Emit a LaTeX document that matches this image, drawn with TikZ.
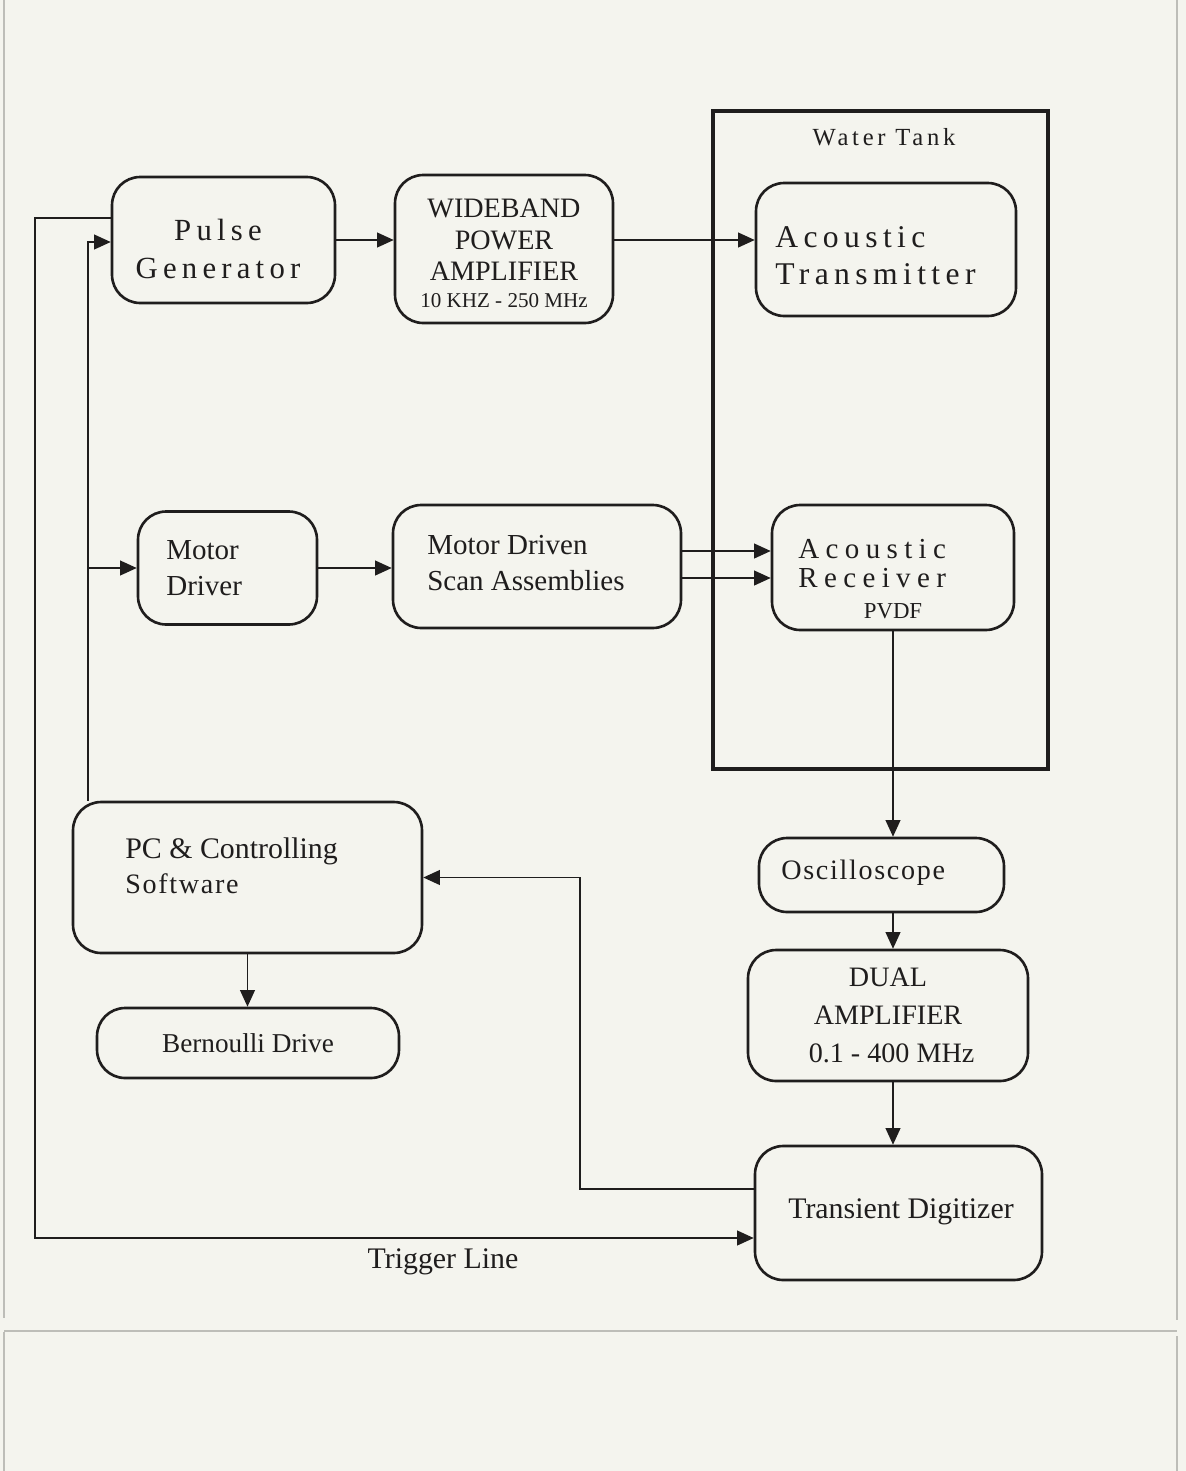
\documentclass[tikz,border=0pt]{standalone}
\usepackage{fontspec}
\setmainfont{Liberation Serif}
\newfontfamily\widefont[LetterSpace=22]{Liberation Serif}
\newfontfamily\midwidefont[LetterSpace=17]{Liberation Serif}
\newfontfamily\halfwidefont[LetterSpace=15]{Liberation Serif}
\newfontfamily\slightwidefont[LetterSpace=6]{Liberation Serif}
\usetikzlibrary{arrows.meta, positioning}
\definecolor{inkdark}{HTML}{1F1D1D}
\definecolor{pagerule}{HTML}{BDBDB8}
\definecolor{paper}{HTML}{F4F4EE}
\newcommand{\fs}[2]{\fontsize{#1}{#2}\selectfont}

\begin{document}
\begin{tikzpicture}[x=0.02cm, y=-0.02cm,
    blk/.style={draw=inkdark, line width=1.5pt, rounded corners=16pt, inner sep=0pt},
    wire/.style={inkdark, line width=0.8pt},
    arr/.style={wire, -{Triangle[length=9.5pt, width=8.5pt]}},
    lbl/.style={text=inkdark, inner sep=0pt}]
  \useasboundingbox[fill=paper] (0,0) rectangle (1186,1471);

  % page edges of the scan
  \draw[pagerule, line width=1.2pt] (4,0) -- (4,1318) (1177,0) -- (1177,1320);
  \draw[pagerule, line width=1.2pt] (4,1332) -- (4,1471) (1177,1336) -- (1177,1471);
  \draw[pagerule, line width=1.2pt] (4,1331) -- (1177,1331);

  % Water tank
  \draw[inkdark, line width=2.3pt] (713,111) rectangle (1048,769);
  \node[lbl, font=\halfwidefont\fs{14}{16}] (tank) at (884,137) {Water Tank};

  % Top row
  \node[blk, minimum width=4.46cm, minimum height=2.52cm] (pg) at (223.5,240) {};
  \node[lbl, align=center, font=\midwidefont\fs{17.5}{22}] (pg-t) at (218,249) {Pulse\\Generator};

  \node[blk, minimum width=4.36cm, minimum height=2.96cm] (wb) at (504,249) {};
  \node[lbl, align=center, font=\fs{16}{18}] (wb-t) at (504,240) {WIDEBAND\\POWER\\AMPLIFIER};
  \node[lbl, font=\fs{12}{14}] (wb-f) at (504,301) {10 KHZ - 250 MHz};

  \node[blk, minimum width=5.2cm, minimum height=2.66cm] (tr) at (886,249.5) {};
  \node[lbl, anchor=west, align=left, font=\midwidefont\fs{18}{21}] (tr-t) at (775,256) {Acoustic\\Transmitter};

  % Middle row
  \node[blk, minimum width=3.58cm, minimum height=2.26cm] (md) at (227.5,568) {};
  \node[lbl, anchor=west, align=left, font=\fs{16.5}{20.5}] (md-t) at (166,568) {Motor\\Driver};

  \node[blk, minimum width=5.76cm, minimum height=2.46cm] (sc) at (537,566.5) {};
  \node[lbl, anchor=west, align=left, font=\fs{16.5}{20.5}] (sc-t) at (427,563) {Motor Driven\\Scan Assemblies};

  \node[blk, minimum width=4.84cm, minimum height=2.5cm] (rx) at (893,567.5) {};
  \node[lbl, anchor=west, align=left, font=\widefont\fs{16.5}{16.5}] (rx-t) at (798,564) {Acoustic\\Receiver};
  \node[lbl, font=\fs{13}{15}] (rx-f) at (893,611) {PVDF};

  % Lower left
  \node[blk, minimum width=6.98cm, minimum height=3.02cm] (pc) at (247.5,877.5) {};
  \node[lbl, anchor=west, align=left, font=\fs{17}{20}] (pc-t) at (125,866) {PC \& Controlling\\{\slightwidefont\fs{16}{20}Software}};

  \node[blk, minimum width=6.04cm, minimum height=1.4cm] (bd) at (248,1043) {};
  \node[lbl, font=\fs{15.5}{18}] (bd-t) at (bd) {Bernoulli Drive};

  % Signal chain
  \node[blk, minimum width=4.9cm, minimum height=1.48cm] (osc) at (881.5,875) {};
  \node[lbl, anchor=west, font=\slightwidefont\fs{16}{18}] (osc-t) at (781,873) {Oscilloscope};

  \node[blk, minimum width=5.6cm, minimum height=2.62cm] (du) at (888,1015.5) {};
  \node[lbl, align=center, font=\fs{16}{21.5}] (du-t) at (du) {DUAL\\AMPLIFIER\\\ 0.1 - 400 MHz};

  \node[blk, minimum width=5.74cm, minimum height=2.68cm] (dig) at (898.5,1213) {};
  \node[lbl, font=\fs{17}{19}] (dig-t) at (901,1212) {Transient Digitizer};

  % Connections
  \coordinate (trigL) at (35,218);
  \coordinate (trigB) at (35,1238);
  \coordinate (busT) at (88,242);
  \coordinate (retC) at (580,1189);

  \draw[arr] (pg.west |- trigL) -- (trigL) -- (trigB) -- (trigB -| dig.west);
  \node[lbl, font=\fs{17}{19}] (trig-t) at (443,1262) {Trigger Line};

  \draw[arr] (busT |- pc.north) -- (busT) -- (busT -| pg.west);
  \draw[arr] (busT |- md.west) -- (md.west);

  \draw[arr] (pg.east) -- (pg.east -| wb.west);
  \draw[arr] (wb.east |- pg.east) -- (pg.east -| tr.west);
  \draw[arr] (md.east) -- (md.east -| sc.west);
  \draw[arr] ([yshift=0.31cm]sc.east) -- ([yshift=0.31cm]sc.east -| rx.west);
  \draw[arr] ([yshift=-0.23cm]sc.east) -- ([yshift=-0.23cm]sc.east -| rx.west);

  \draw[arr] (rx.south) -- (rx.south |- osc.north);
  \draw[arr] (rx.south |- osc.south) -- (rx.south |- du.north);
  \draw[arr] (rx.south |- du.south) -- (rx.south |- dig.north);

  \draw[arr] (dig.west |- retC) -- (retC) |- (pc.east);
  \draw[arr] (pc.south) -- (pc.south |- bd.north);
\end{tikzpicture}
\end{document}
